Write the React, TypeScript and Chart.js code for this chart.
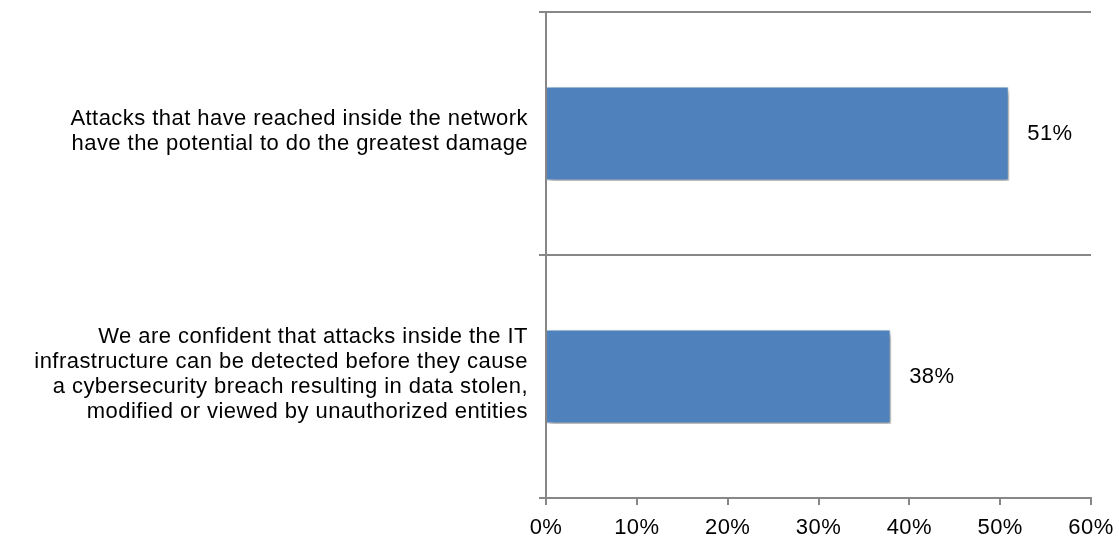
import React, { useEffect, useRef } from "react";
import { Chart, registerables } from "chart.js";

Chart.register(...registerables);

const categories: string[][] = [
  ["Attacks that have reached inside the network", "have the potential to do the greatest damage"],
  [
    "We are confident that attacks inside the IT",
    "infrastructure can be detected before they cause",
    "a cybersecurity breach resulting in data stolen,",
    "modified or viewed by unauthorized entities",
  ],
];
const values: number[] = [51, 38];
const xTicks: number[] = [0, 10, 20, 30, 40, 50, 60];

const FONT = "'Liberation Sans', Arial, sans-serif";
const GRID = "#878787";

const spacingPlugin = {
  id: "letterSpacing",
  beforeDraw(chart: any) {
    chart.ctx.letterSpacing = "0.45px";
  },
};

const shadowPlugin = {
  id: "barShadow",
  beforeDatasetsDraw(chart: any) {
    const ctx = chart.ctx;
    ctx.save();
    ctx.shadowColor = "rgba(0,0,0,0.4)";
    ctx.shadowBlur = 6;
    ctx.shadowOffsetX = 2;
    ctx.shadowOffsetY = 3;
  },
  afterDatasetsDraw(chart: any) {
    chart.ctx.restore();
  },
};

const labelPlugin = {
  id: "valueLabels",
  afterDraw(chart: any) {
    const ctx = chart.ctx;
    const meta = chart.getDatasetMeta(0);
    ctx.save();
    ctx.font = `22px ${FONT}`;
    ctx.fillStyle = "#000";
    ctx.textAlign = "left";
    ctx.textBaseline = "middle";
    meta.data.forEach((bar: any, i: number) => {
      ctx.fillText(`${values[i]}%`, bar.x + 18, bar.y);
    });
    ctx.restore();
  },
};

export default function App() {
  const ref = useRef<HTMLCanvasElement | null>(null);
  useEffect(() => {
    if (!ref.current) return;
    const chart = new Chart(ref.current, {
      type: "bar",
      data: {
        labels: categories,
        datasets: [
          {
            data: values,
            backgroundColor: "#4F81BD",
            borderColor: "#ffffff",
            borderWidth: 1.5,
            categoryPercentage: 0.39,
            barPercentage: 1,
          },
        ],
      },
      options: {
        indexAxis: "y",
        responsive: false,
        animation: false,
        layout: { padding: { top: 12, right: 28, left: 0, bottom: 0 } },
        plugins: { legend: { display: false }, tooltip: { enabled: false } },
        scales: {
          x: {
            min: 0,
            max: 60,
            afterBuildTicks(scale: any) {
              scale.ticks = xTicks.map((v) => ({ value: v }));
            },
            afterFit(scale: any) {
              scale.height = 41;
              scale.paddingLeft = 0;
              scale.paddingRight = 0;
            },
            grid: {
              drawOnChartArea: false,
              drawTicks: true,
              tickLength: 7,
              color: GRID,
              lineWidth: 2,
            },
            border: { display: true, color: GRID, width: 2 },
            ticks: {
              color: "#000",
              font: { family: FONT, size: 22 },
              padding: 10,
              maxRotation: 0,
              callback: (v: any) => `${v}%`,
            },
          },
          y: {
            afterFit(scale: any) {
              scale.width = 546;
              scale.paddingTop = 0;
              scale.paddingBottom = 0;
            },
            grid: {
              offset: true,
              drawOnChartArea: true,
              drawTicks: true,
              tickLength: 7,
              color: GRID,
              lineWidth: 2,
            },
            border: { display: true, color: GRID, width: 2 },
            ticks: {
              color: "#000",
              font: { family: FONT, size: 22, lineHeight: "25px" },
              padding: 11,
              labelOffset: -2,
              autoSkip: false,
            },
          },
        },
      },
      plugins: [spacingPlugin, shadowPlugin, labelPlugin],
    });
    return () => chart.destroy();
  }, []);
  return (
    <div style={{ position: "fixed", left: 0, top: 0, width: 1119, height: 539, background: "#fff" }}>
      <canvas ref={ref} width={1119} height={539} style={{ display: "block" }} />
    </div>
  );
}
